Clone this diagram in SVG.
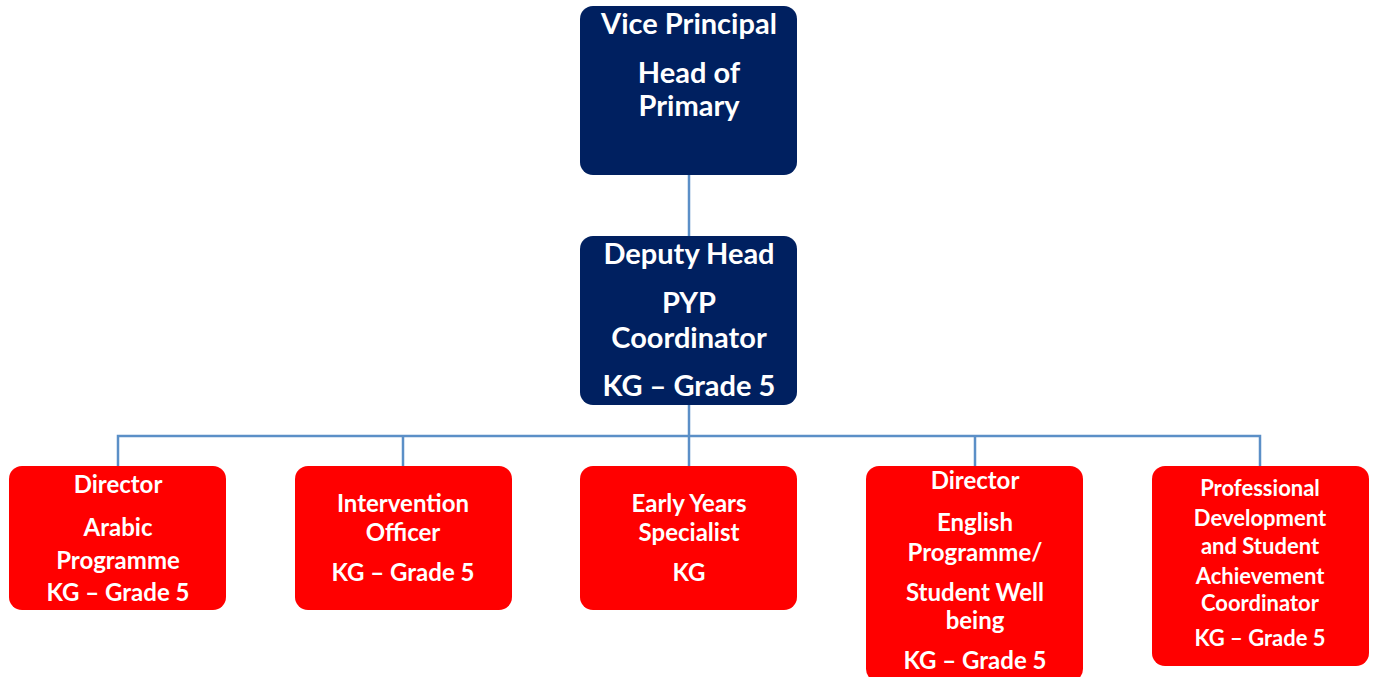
<svg xmlns="http://www.w3.org/2000/svg" width="1377" height="677" viewBox="0 0 1377 677">
  <style>
    .navy { fill: #002060; }
    .red { fill: #FF0000; }
    .lbl { fill: #FFFFFF; font-family: Lato, "Liberation Sans", sans-serif; font-weight: bold; text-anchor: middle; }
    .big { font-size: 29px; }
    .sm { font-size: 24px; }
    .xs { font-size: 22px; }
    .conn { fill: none; stroke: #5B8FC7; stroke-width: 2.5; }
  </style>

  <g id="connectors">
    <path class="conn" d="M689 175 V236"/>
    <path class="conn" d="M689 405 V436"/>
    <path class="conn" d="M118 466 V436 H1260 V466"/>
    <path class="conn" d="M403 436 V466"/>
    <path class="conn" d="M689 436 V466"/>
    <path class="conn" d="M975 436 V466"/>
  </g>

  <g id="vice-principal">
    <rect class="navy" x="580" y="6" width="217" height="169" rx="13"/>
    <text class="lbl big" x="689" y="34">Vice Principal</text>
    <text class="lbl big" x="689" y="83">Head of</text>
    <text class="lbl big" x="689" y="116">Primary</text>
  </g>

  <g id="deputy-head">
    <rect class="navy" x="580" y="236" width="217" height="169" rx="13"/>
    <text class="lbl big" x="689" y="264">Deputy Head</text>
    <text class="lbl big" x="689" y="313">PYP</text>
    <text class="lbl big" x="689" y="348">Coordinator</text>
    <text class="lbl big" x="689" y="396">KG – Grade 5</text>
  </g>

  <g id="director-arabic">
    <rect class="red" x="9" y="466" width="217" height="144" rx="13"/>
    <text class="lbl sm" x="118" y="493">Director</text>
    <text class="lbl sm" x="118" y="536">Arabic</text>
    <text class="lbl sm" x="118" y="569">Programme</text>
    <text class="lbl sm" x="118" y="601">KG – Grade 5</text>
  </g>

  <g id="intervention-officer">
    <rect class="red" x="295" y="466" width="217" height="144" rx="13"/>
    <text class="lbl sm" x="403" y="512">Intervention</text>
    <text class="lbl sm" x="403" y="541">Officer</text>
    <text class="lbl sm" x="403" y="581">KG – Grade 5</text>
  </g>

  <g id="early-years">
    <rect class="red" x="580" y="466" width="217" height="144" rx="13"/>
    <text class="lbl sm" x="689" y="512">Early Years</text>
    <text class="lbl sm" x="689" y="541">Specialist</text>
    <text class="lbl sm" x="689" y="581">KG</text>
  </g>

  <g id="director-english">
    <rect class="red" x="866" y="466" width="217" height="216" rx="13"/>
    <text class="lbl sm" x="975" y="489">Director</text>
    <text class="lbl sm" x="975" y="531">English</text>
    <text class="lbl sm" x="975" y="561">Programme/</text>
    <text class="lbl sm" x="975" y="601">Student Well</text>
    <text class="lbl sm" x="975" y="629">being</text>
    <text class="lbl sm" x="975" y="669">KG – Grade 5</text>
  </g>

  <g id="pd-coordinator">
    <rect class="red" x="1152" y="466" width="217" height="200" rx="13"/>
    <text class="lbl xs" x="1260" y="496">Professional</text>
    <text class="lbl xs" x="1260" y="526">Development</text>
    <text class="lbl xs" x="1260" y="554">and Student</text>
    <text class="lbl xs" x="1260" y="584">Achievement</text>
    <text class="lbl xs" x="1260" y="611">Coordinator</text>
    <text class="lbl xs" x="1260" y="646">KG – Grade 5</text>
  </g>
</svg>
